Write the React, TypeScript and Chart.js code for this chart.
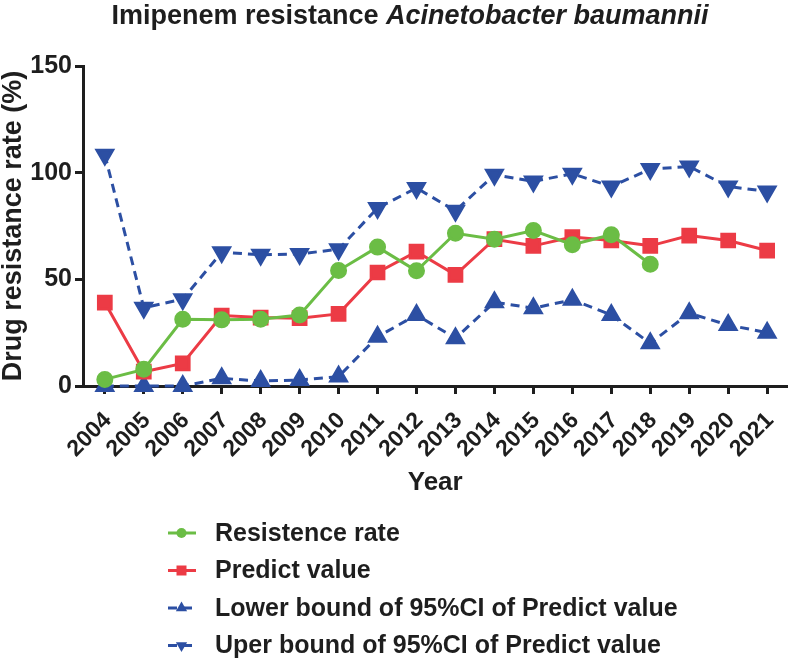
import React, { useEffect, useRef } from 'react';
import { Chart, registerables } from 'chart.js';

Chart.register(...registerables);

const years = [2004, 2005, 2006, 2007, 2008, 2009, 2010, 2011, 2012, 2013, 2014, 2015, 2016, 2017, 2018, 2019, 2020, 2021];
const resistanceRate = [3.1, 7.8, 31.3, 31.0, 31.3, 33.3, 54.1, 65.1, 54.0, 71.6, 68.8, 72.9, 66.2, 70.9, 57.1];
const predictValue = [39.1, 6.7, 10.6, 33.0, 32.1, 31.8, 33.8, 53.2, 63.0, 52.1, 68.8, 65.7, 69.8, 68.2, 65.7, 70.5, 68.2, 63.5];
const lowerBound = [0, 0, 0, 3.6, 2.3, 2.8, 4.4, 23.1, 33.3, 22.4, 39.3, 36.5, 40.4, 33.3, 20.0, 34.1, 28.6, 25.0];
const upperBound = [108.4, 36.7, 40.7, 62.7, 61.5, 61.9, 64.1, 83.4, 92.8, 82.1, 99.0, 95.9, 99.5, 93.5, 101.7, 102.9, 93.5, 91.2];
const yTicks = [0, 50, 100, 150];

const seriesLabels = [
  'Resistence rate',
  'Predict value',
  'Lower bound of 95%CI of Predict value',
  'Uper bound of 95%CI of Predict value',
];
const titleNormal = 'Imipenem resistance ';
const titleItalic = 'Acinetobacter baumannii';
const xTitle = 'Year';
const yTitle = 'Drug resistance rate (%)';

const GREEN = '#6bbd45';
const RED = '#ec3b45';
const BLUE = '#2c4fa3';
const TEXT = '#1e1e1e';
const FONT = '"Liberation Sans", Arial, Helvetica, sans-serif';

const toPoints = (vals: number[]) => vals.map((v, i) => ({ x: years[i], y: v }));

function drawMarker(ctx: CanvasRenderingContext2D, style: string, x: number, y: number, r: number, rot: number, color: string) {
  ctx.save();
  ctx.fillStyle = color;
  ctx.beginPath();
  if (style === 'circle') {
    ctx.arc(x, y, r, 0, Math.PI * 2);
  } else if (style === 'rect') {
    ctx.rect(x - r, y - r, 2 * r, 2 * r);
  } else {
    let a = (rot * Math.PI) / 180;
    ctx.moveTo(x + Math.sin(a) * r, y - Math.cos(a) * r);
    a += (2 * Math.PI) / 3;
    ctx.lineTo(x + Math.sin(a) * r, y - Math.cos(a) * r);
    a += (2 * Math.PI) / 3;
    ctx.lineTo(x + Math.sin(a) * r, y - Math.cos(a) * r);
    ctx.closePath();
  }
  ctx.fill();
  ctx.restore();
}

const titlePlugin = {
  id: 'mixedTitle',
  afterDraw(chart: any) {
    const ctx: CanvasRenderingContext2D = chart.ctx;
    ctx.save();
    const fNormal = `bold 27px ${FONT}`;
    const fItalic = `italic bold 27px ${FONT}`;
    ctx.font = fNormal;
    const w1 = ctx.measureText(titleNormal).width;
    ctx.font = fItalic;
    const w2 = ctx.measureText(titleItalic).width;
    const start = 410 - (w1 + w2) / 2;
    ctx.fillStyle = TEXT;
    ctx.textBaseline = 'alphabetic';
    ctx.textAlign = 'left';
    ctx.font = fNormal;
    ctx.fillText(titleNormal, start, 24);
    ctx.font = fItalic;
    ctx.fillText(titleItalic, start + w1, 24);
    ctx.restore();
  },
};

const legendPlugin = {
  id: 'vertLegend',
  afterDraw(chart: any) {
    const ctx: CanvasRenderingContext2D = chart.ctx;
    const markerSizes = [5, 5, 6.5, 6.5];
    chart.data.datasets.forEach((ds: any, i: number) => {
      const y = 533 + i * 37.5;
      ctx.save();
      ctx.strokeStyle = ds.borderColor;
      ctx.lineWidth = 3;
      ctx.setLineDash(ds.borderDash || []);
      ctx.beginPath();
      ctx.moveTo(168, y);
      ctx.lineTo(196, y);
      ctx.stroke();
      ctx.restore();
      drawMarker(ctx, ds.pointStyle, 181.5, y, markerSizes[i], ds.pointRotation || 0, ds.pointBackgroundColor);
      ctx.save();
      ctx.font = `bold 25px ${FONT}`;
      ctx.fillStyle = TEXT;
      ctx.textBaseline = 'middle';
      ctx.textAlign = 'left';
      ctx.fillText(ds.label, 215, y + 1);
      ctx.restore();
    });
  },
};

export default function App() {
  const canvasRef = useRef<HTMLCanvasElement | null>(null);

  useEffect(() => {
    document.body.style.margin = '0';
    const canvas = canvasRef.current;
    if (!canvas) return;
    Chart.defaults.font.family = FONT;
    Chart.defaults.color = TEXT;

    const chart = new Chart(canvas, {
      type: 'line',
      data: {
        datasets: [
          {
            label: seriesLabels[0],
            data: toPoints(resistanceRate),
            borderColor: GREEN,
            backgroundColor: GREEN,
            pointBackgroundColor: GREEN,
            pointBorderColor: GREEN,
            pointStyle: 'circle',
            pointRadius: 7,
            borderWidth: 3,
            clip: false,
          },
          {
            label: seriesLabels[1],
            data: toPoints(predictValue),
            borderColor: RED,
            backgroundColor: RED,
            pointBackgroundColor: RED,
            pointBorderColor: RED,
            pointStyle: 'rect',
            pointRadius: 9,
            borderWidth: 3,
            clip: false,
          },
          {
            label: seriesLabels[2],
            data: toPoints(lowerBound),
            borderColor: BLUE,
            backgroundColor: BLUE,
            pointBackgroundColor: BLUE,
            pointBorderColor: BLUE,
            pointStyle: 'triangle',
            pointRotation: 0,
            pointRadius: 9,
            borderWidth: 3,
            borderDash: [9, 6],
            clip: false,
          },
          {
            label: seriesLabels[3],
            data: toPoints(upperBound),
            borderColor: BLUE,
            backgroundColor: BLUE,
            pointBackgroundColor: BLUE,
            pointBorderColor: BLUE,
            pointStyle: 'triangle',
            pointRotation: 180,
            pointRadius: 9,
            borderWidth: 3,
            borderDash: [9, 6],
            clip: false,
          },
        ] as any,
      },
      options: {
        animation: false,
        responsive: false,
        devicePixelRatio: 1,
        layout: { padding: { top: 66, right: 2, bottom: 156, left: 0 } },
        plugins: {
          legend: { display: false },
          title: { display: false },
          tooltip: { enabled: false },
        },
        elements: { line: { tension: 0 } },
        scales: {
          x: {
            type: 'linear',
            min: 2003.44,
            max: 2021.52,
            afterBuildTicks: (scale: any) => {
              scale.ticks = years.map((v) => ({ value: v }));
            },
            afterFit: (scale: any) => {
              scale.height = 116;
            },
            ticks: {
              autoSkip: false,
              maxRotation: 45,
              minRotation: 45,
              padding: 13,
              labelOffset: 3,
              color: TEXT,
              font: { size: 23, weight: 'bold' },
              callback: (v: any) => String(v),
            },
            grid: {
              drawOnChartArea: false,
              drawTicks: true,
              tickLength: 8,
              tickWidth: 3,
              tickColor: TEXT,
            },
            border: { display: true, color: TEXT, width: 3 },
            title: {
              display: true,
              text: xTitle,
              color: TEXT,
              font: { size: 26, weight: 'bold' },
              padding: { top: 4, bottom: 4 },
            },
          },
          y: {
            type: 'linear',
            min: 0,
            max: 150,
            afterBuildTicks: (scale: any) => {
              scale.ticks = yTicks.map((v) => ({ value: v }));
            },
            afterFit: (scale: any) => {
              scale.width = 83;
            },
            ticks: {
              padding: 3,
              color: TEXT,
              font: { size: 25, weight: 'bold' },
              callback: (v: any) => String(v),
            },
            grid: {
              drawOnChartArea: false,
              drawTicks: true,
              tickLength: 8,
              tickWidth: 3,
              tickColor: TEXT,
            },
            border: { display: true, color: TEXT, width: 3 },
            title: {
              display: true,
              text: yTitle,
              color: TEXT,
              font: { size: 27, weight: 'bold', lineHeight: 1 },
              padding: { top: 0, bottom: 0 },
            },
          },
        },
      } as any,
      plugins: [titlePlugin, legendPlugin],
    });

    return () => {
      chart.destroy();
    };
  }, []);

  return (
    <div style={{ width: 800, height: 658 }}>
      <canvas ref={canvasRef} width={800} height={658} style={{ display: 'block', width: 800, height: 658 }} />
    </div>
  );
}
